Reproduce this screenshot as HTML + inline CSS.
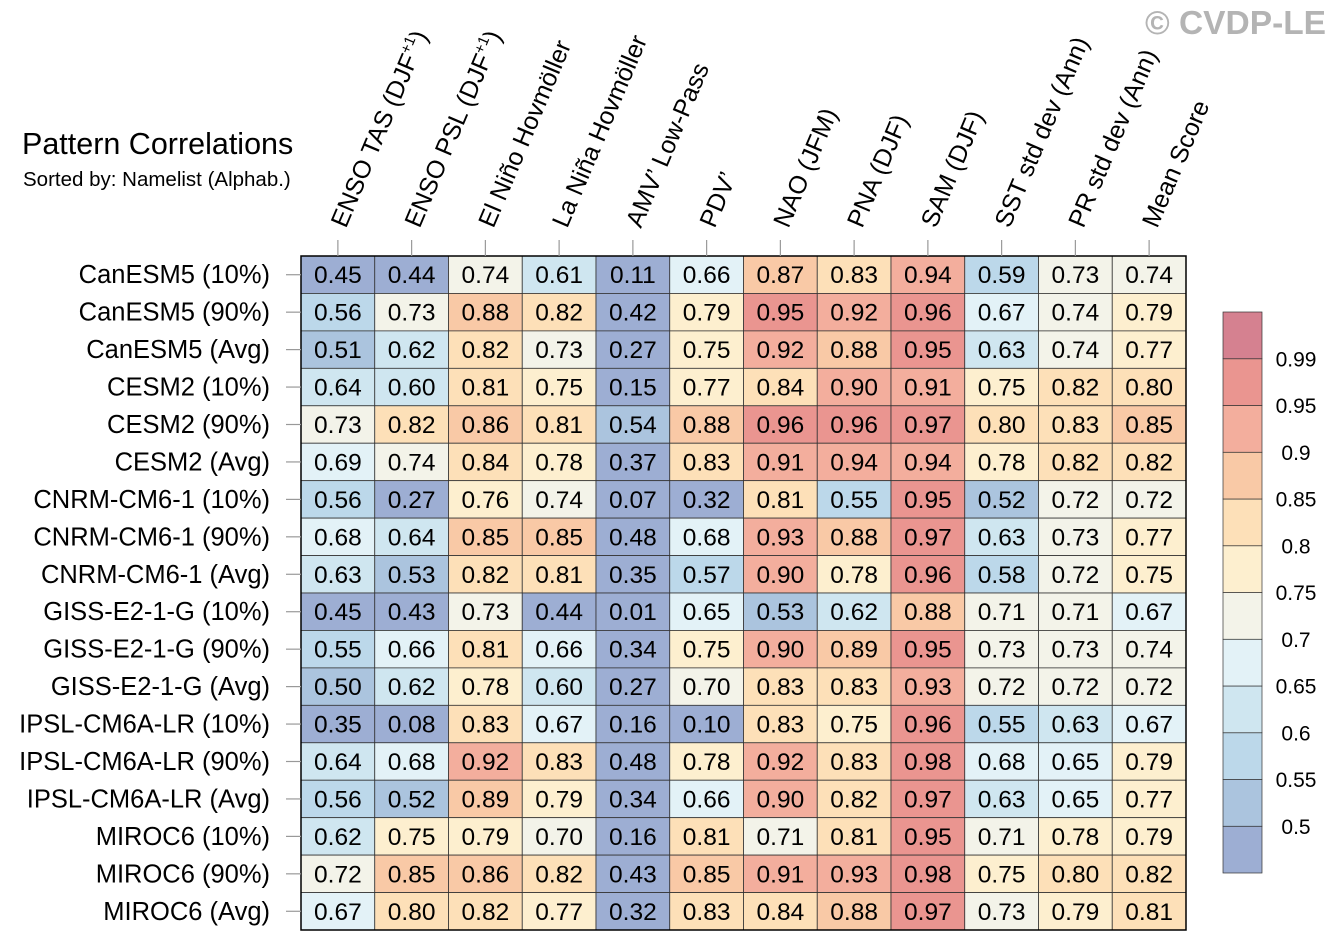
<!DOCTYPE html>
<html><head><meta charset="utf-8">
<style>
html,body{margin:0;padding:0;background:#fff;}
svg{display:block;font-family:"Liberation Sans",Arial,sans-serif;}
</style></head>
<body>
<svg id="chart" width="1337" height="951" viewBox="0 0 1337 951">
<text x="1145" y="34" font-size="33.5" font-weight="bold" fill="#b4b4b4">© CVDP-LE</text>
<text x="22" y="154" font-size="30.5" fill="#000">Pattern Correlations</text>
<text x="23" y="186" font-size="20.5" fill="#000">Sorted by: Namelist (Alphab.)</text>
<g id="cells"></g>
<g id="collabels"></g>
<g id="rowlabels"></g>
<g id="cbar"></g>
</svg>
<script>
const columns = ["ENSO TAS (DJF+1)","ENSO PSL (DJF+1)","El Niño Hovmöller","La Niña Hovmöller","AMV’ Low-Pass","PDV’","NAO (JFM)","PNA (DJF)","SAM (DJF)","SST std dev (Ann)","PR std dev (Ann)","Mean Score"];
const rows = ["CanESM5 (10%)","CanESM5 (90%)","CanESM5 (Avg)","CESM2 (10%)","CESM2 (90%)","CESM2 (Avg)","CNRM-CM6-1 (10%)","CNRM-CM6-1 (90%)","CNRM-CM6-1 (Avg)","GISS-E2-1-G (10%)","GISS-E2-1-G (90%)","GISS-E2-1-G (Avg)","IPSL-CM6A-LR (10%)","IPSL-CM6A-LR (90%)","IPSL-CM6A-LR (Avg)","MIROC6 (10%)","MIROC6 (90%)","MIROC6 (Avg)"];
const values = [
[0.45,0.44,0.74,0.61,0.11,0.66,0.87,0.83,0.94,0.59,0.73,0.74],
[0.56,0.73,0.88,0.82,0.42,0.79,0.95,0.92,0.96,0.67,0.74,0.79],
[0.51,0.62,0.82,0.73,0.27,0.75,0.92,0.88,0.95,0.63,0.74,0.77],
[0.64,0.60,0.81,0.75,0.15,0.77,0.84,0.90,0.91,0.75,0.82,0.80],
[0.73,0.82,0.86,0.81,0.54,0.88,0.96,0.96,0.97,0.80,0.83,0.85],
[0.69,0.74,0.84,0.78,0.37,0.83,0.91,0.94,0.94,0.78,0.82,0.82],
[0.56,0.27,0.76,0.74,0.07,0.32,0.81,0.55,0.95,0.52,0.72,0.72],
[0.68,0.64,0.85,0.85,0.48,0.68,0.93,0.88,0.97,0.63,0.73,0.77],
[0.63,0.53,0.82,0.81,0.35,0.57,0.90,0.78,0.96,0.58,0.72,0.75],
[0.45,0.43,0.73,0.44,0.01,0.65,0.53,0.62,0.88,0.71,0.71,0.67],
[0.55,0.66,0.81,0.66,0.34,0.75,0.90,0.89,0.95,0.73,0.73,0.74],
[0.50,0.62,0.78,0.60,0.27,0.70,0.83,0.83,0.93,0.72,0.72,0.72],
[0.35,0.08,0.83,0.67,0.16,0.10,0.83,0.75,0.96,0.55,0.63,0.67],
[0.64,0.68,0.92,0.83,0.48,0.78,0.92,0.83,0.98,0.68,0.65,0.79],
[0.56,0.52,0.89,0.79,0.34,0.66,0.90,0.82,0.97,0.63,0.65,0.77],
[0.62,0.75,0.79,0.70,0.16,0.81,0.71,0.81,0.95,0.71,0.78,0.79],
[0.72,0.85,0.86,0.82,0.43,0.85,0.91,0.93,0.98,0.75,0.80,0.82],
[0.67,0.80,0.82,0.77,0.32,0.83,0.84,0.88,0.97,0.73,0.79,0.81]];
const levels = [0.5,0.55,0.6,0.65,0.7,0.75,0.8,0.85,0.9,0.95,0.99];
const levelLabels = ["0.5","0.55","0.6","0.65","0.7","0.75","0.8","0.85","0.9","0.95","0.99"];
const palette = ["#9daed3","#abc4de","#bcd8ea","#cfe6f0","#e3f2f7","#f3f3e9","#fdefcf","#fde0b8","#f9c9a6","#f3ae9d","#ea9590","#d58190"];

const NS="http://www.w3.org/2000/svg";
const X0=301,Y0=256,X1=1186,Y1=930;
const cw=(X1-X0)/columns.length, rh=(Y1-Y0)/rows.length;
function xCol(i){return X0+i*cw;}
function yRow(j){return Y0+j*rh;}
function colorFor(v){let k=0;while(k<levels.length&&v>=levels[k]-1e-9)k++;return palette[k];}
function mk(tag,attrs,parent){const e=document.createElementNS(NS,tag);for(const k in attrs)e.setAttribute(k,attrs[k]);parent.appendChild(e);return e;}

const cells=document.getElementById('cells');
values.forEach((row,j)=>row.forEach((v,i)=>{
  const r=mk('rect',{x:xCol(i),y:yRow(j),width:cw,height:rh,fill:colorFor(v),stroke:'#333','stroke-width':0.8},cells);
  
  
  const t=mk('text',{x:xCol(i)+cw/2,y:yRow(j)+rh/2+8.5,'font-size':24.5,'text-anchor':'middle',fill:'#000'},cells);
  t.textContent=v.toFixed(2);
  
  
}));
const frame=mk('rect',{x:X0,y:Y0,width:X1-X0,height:Y1-Y0,fill:'none',stroke:'#000','stroke-width':1.5},cells);



const cl=document.getElementById('collabels');
columns.forEach((c,i)=>{
  const cx=xCol(i)+cw/2;
  mk('line',{x1:cx,y1:240,x2:cx,y2:Y0,stroke:'#999','stroke-width':1.2},cl);
  const t=mk('text',{x:0,y:0,'font-size':25,transform:`translate(${cx+8},229) rotate(-67)`,fill:'#000'},cl);
  const m=c.match(/^(.*\(DJF)\+1\)$/);
  if(m){t.textContent=m[1];const s=mk('tspan',{dy:-10,'font-size':15},t);s.textContent='+1';const s2=mk('tspan',{dy:10},t);s2.textContent=')';}
  else t.textContent=c;
  
  
});

const rl=document.getElementById('rowlabels');
rows.forEach((r,j)=>{
  const cy=yRow(j)+rh/2;
  mk('line',{x1:286,y1:cy,x2:X0,y2:cy,stroke:'#999','stroke-width':1.2},rl);
  const t=mk('text',{x:270,y:cy+8.5,'font-size':25.5,'text-anchor':'end',fill:'#000'},rl);
  t.textContent=r;
  
  
});

const cb=document.getElementById('cbar');
const CBX=1223,CBW=39,CBT=312,CBB=873;
const bh=(CBB-CBT)/palette.length;
palette.forEach((col,k)=>{
  const y=CBB-(k+1)*bh;
  const r=mk('rect',{x:CBX,y:y,width:CBW,height:bh,fill:col,stroke:'#333','stroke-width':0.7},cb);
  
  
});
levelLabels.forEach((lab,k)=>{
  const y=CBB-(k+1)*bh;
  const t=mk('text',{x:1296,y:y+7.5,'font-size':21,'text-anchor':'middle',fill:'#000'},cb);
  t.textContent=lab;
  
  
});
</script>
</body></html>
